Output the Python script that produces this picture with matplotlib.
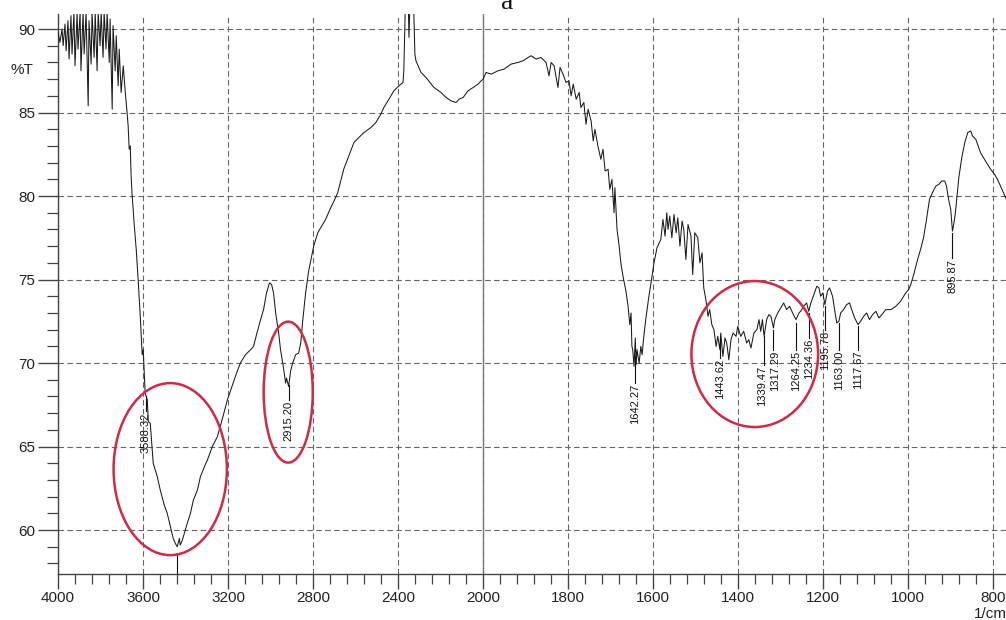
import numpy as np
import matplotlib
matplotlib.use('Agg')
from matplotlib import pyplot as plt
from matplotlib.patches import Ellipse

plt.rcParams['font.family'] = ['Liberation Sans', 'DejaVu Sans']

# spectrum: wavenumber (1/cm) and transmittance (%T)
wn_high = [4000, 3991, 3981, 3976, 3967, 3962, 3953, 3948, 3939, 3934, 3925, 3920,
           3910, 3906, 3896, 3892, 3882, 3877, 3868, 3858, 3854, 3844, 3840, 3830,
           3825, 3816, 3811, 3802, 3797, 3788, 3783, 3774, 3769, 3759, 3755, 3745,
           3741, 3731, 3726, 3717, 3712, 3703, 3693, 3684, 3675, 3670, 3665, 3660,
           3656, 3651, 3642, 3632, 3623, 3613, 3604, 3599, 3590, 3580, 3575, 3566,
           3552, 3533, 3519, 3500, 3486, 3467, 3458, 3448, 3439, 3429, 3425, 3415,
           3406, 3392, 3377, 3363, 3344, 3330, 3311, 3297, 3274, 3250, 3226, 3203,
           3179, 3160, 3142, 3118, 3094, 3080, 3066, 3047, 3033, 3019, 3005, 2995,
           2986, 2976, 2962, 2953, 2939, 2929, 2925, 2915, 2906, 2896, 2882, 2868,
           2858, 2849, 2835, 2821, 2797, 2778, 2764, 2741, 2717, 2698, 2684, 2670,
           2656, 2632, 2608, 2585, 2561, 2528, 2505, 2481, 2467, 2443, 2420, 2396,
           2377, 2373, 2363, 2354, 2349, 2340, 2330, 2321, 2316, 2292, 2269, 2231,
           2198, 2174, 2151, 2127, 2113, 2094, 2071, 2047, 2024, 2009, 2000]
t_high = [89.8, 89.2, 90.0, 89.0, 90.3, 88.7, 90.5, 88.2, 90.8, 88.5, 91.0, 87.8,
          91.0, 88.8, 91.0, 87.5, 91.0, 88.5, 91.0, 85.4, 90.5, 87.9, 91.0, 88.3,
          91.0, 87.5, 91.0, 89.0, 91.0, 88.3, 91.0, 88.8, 91.0, 88.0, 90.6, 85.2,
          90.2, 87.5, 89.6, 86.6, 88.8, 86.2, 87.8, 86.3, 85.0, 84.2, 82.8, 83.0,
          81.2, 80.0, 78.4, 76.8, 75.0, 72.8, 70.5, 70.8, 68.2, 67.8, 66.5, 66.4,
          64.0, 63.2, 62.4, 61.5, 61.0, 60.0, 59.5, 59.2, 59.0, 59.5, 59.1, 59.4,
          59.8, 60.4, 61.0, 61.8, 62.4, 63.2, 63.8, 64.2, 65.0, 65.6, 66.7, 67.8,
          68.7, 69.4, 70.0, 70.5, 70.8, 71.0, 71.7, 72.6, 73.2, 74.2, 74.8, 74.7,
          74.2, 73.0, 71.8, 70.8, 69.7, 68.8, 69.1, 68.6, 69.5, 70.0, 70.5, 70.6,
          71.2, 72.5, 74.2, 75.5, 77.0, 77.8, 78.1, 78.6, 79.3, 79.8, 80.2, 80.9,
          81.6, 82.4, 83.2, 83.5, 83.8, 84.1, 84.4, 84.9, 85.3, 85.8, 86.3, 86.6,
          86.8, 87.5, 93.0, 93.0, 89.5, 93.0, 93.0, 88.5, 88.1, 87.4, 87.1, 86.5,
          86.2, 85.9, 85.7, 85.6, 85.8, 85.9, 86.3, 86.5, 86.7, 86.9, 87.0]

wn_low = [1993, 1981, 1965, 1951, 1934, 1918, 1906, 1894, 1887, 1875, 1864, 1852,
          1845, 1840, 1833, 1824, 1819, 1812, 1805, 1798, 1793, 1788, 1781, 1774,
          1770, 1763, 1758, 1753, 1746, 1741, 1737, 1730, 1723, 1718, 1713, 1706,
          1702, 1697, 1692, 1690, 1685, 1680, 1676, 1671, 1664, 1659, 1655, 1652,
          1650, 1648, 1645, 1642, 1640, 1638, 1633, 1629, 1626, 1622, 1617, 1610,
          1605, 1598, 1591, 1582, 1577, 1572, 1568, 1565, 1561, 1556, 1551, 1546,
          1542, 1537, 1532, 1528, 1523, 1518, 1511, 1507, 1502, 1495, 1490, 1485,
          1481, 1476, 1471, 1467, 1462, 1457, 1452, 1448, 1443, 1441, 1436, 1431,
          1427, 1422, 1417, 1412, 1405, 1401, 1394, 1387, 1380, 1375, 1370, 1363,
          1356, 1351, 1347, 1343, 1339, 1333, 1328, 1323, 1317, 1314, 1307, 1300,
          1293, 1286, 1279, 1272, 1264, 1257, 1253, 1246, 1239, 1234, 1229, 1222,
          1215, 1210, 1206, 1201, 1196, 1190, 1185, 1178, 1172, 1168, 1163, 1159,
          1152, 1145, 1138, 1133, 1126, 1118, 1112, 1105, 1098, 1091, 1084, 1076,
          1069, 1062, 1053, 1041, 1029, 1018, 1006, 999, 994, 987, 978, 971,
          964, 957, 950, 943, 935, 928, 921, 914, 910, 905, 900, 896,
          893, 889, 881, 874, 867, 860, 853, 849, 841, 834, 830, 823,
          816, 806, 797, 790, 783, 776, 769]
t_low = [87.4, 87.3, 87.5, 87.6, 87.9, 88.0, 88.1, 88.3, 88.4, 88.2, 88.3, 88.0,
         87.2, 88.0, 87.8, 86.5, 87.7, 87.3, 86.8, 86.9, 86.0, 86.7, 85.8, 86.2,
         85.3, 85.6, 84.3, 85.2, 84.5, 83.3, 84.0, 83.0, 82.2, 82.8, 81.5, 81.6,
         80.4, 81.0, 79.0, 80.5, 78.0, 77.0, 76.0, 75.2, 74.3, 73.4, 72.3, 73.0,
         71.0, 70.8, 69.8, 71.5, 69.9, 70.8, 70.0, 71.0, 70.5, 71.6, 72.7, 74.0,
         74.8, 76.0, 76.9, 77.4, 78.6, 77.6, 79.0, 78.0, 78.8, 77.5, 78.9, 77.8,
         78.7, 77.0, 78.5, 78.0, 76.2, 78.3, 77.6, 75.3, 77.8, 77.5, 76.0, 76.6,
         74.5, 73.8, 72.8, 73.2, 72.3, 72.0, 71.0, 71.6, 70.8, 71.8, 70.4, 71.5,
         71.2, 70.2, 71.4, 71.8, 71.6, 72.2, 71.6, 71.9, 71.2, 71.4, 70.9, 71.8,
         72.0, 72.6, 71.9, 72.6, 71.6, 72.6, 72.9, 72.8, 72.1, 72.6, 73.0, 73.3,
         73.6, 73.2, 73.4, 73.0, 72.6, 73.0, 73.1, 73.4, 73.6, 73.1, 73.6, 74.1,
         74.6, 74.5, 74.0, 74.2, 73.5, 74.3, 74.5, 74.0, 73.0, 72.4, 72.5, 73.0,
         73.2, 73.5, 73.6, 73.2, 72.7, 72.3, 72.5, 72.8, 73.0, 72.6, 72.9, 73.1,
         72.7, 72.9, 73.2, 73.2, 73.4, 73.7, 74.2, 74.4, 74.7, 75.3, 76.2, 76.8,
         77.5, 78.6, 79.8, 80.2, 80.6, 80.7, 80.9, 80.9, 80.6, 79.8, 79.2, 77.9,
         78.3, 79.0, 81.1, 82.3, 83.2, 83.8, 83.9, 83.6, 83.4, 82.9, 82.6, 82.3,
         82.0, 81.6, 81.3, 81.0, 80.6, 80.2, 79.8]

# peak labels: marker line start and text start (%T); text nudged sideways (1/cm)
peak_labels = ['3588.32', '2915.20', '1642.27', '1443.62', '1339.47', '1317.29',
               '1264.25', '1234.36', '1195.78', '1163.00', '1117.67', '895.87']
peak_line_top = [68.0, 68.7, 70.4, 71.5, 71.6, 72.0, 72.4, 73.0, 73.4, 72.4, 72.2, 77.8]
peak_text_top = [67.1, 67.8, 68.8, 70.3, 69.9, 70.8, 70.8, 71.5, 72.0, 70.8, 70.8, 76.3]
peak_nudge = [0, 0, 0, 0, 4, -5, 0, 0, 0, 0, 0, 0]
# the label of the deepest band is cut off by the axis
deep_band = 3439

# red circles: centre wavenumber, centre %T, width (1/cm), height (%T)
circles = [(3472, 63.65, 533, 10.3), (2917, 68.26, 231, 8.44), (1361, 70.54, 298, 8.74)]

x_major = [4000, 3600, 3200, 2800, 2400, 2000, 1800, 1600, 1400, 1200, 1000, 800]
y_major = [60, 65, 70, 75, 80, 85, 90]


def forward(w):
    # the chart doubles its scale below 2000 1/cm
    w = np.asarray(w, dtype=float)
    return np.where(w > 2000, 2000 + (w - 2000) / 2, w)


def inverse(u):
    u = np.asarray(u, dtype=float)
    return np.where(u > 2000, 2000 + (u - 2000) * 2, u)


fig = plt.figure(figsize=(10.06, 6.2), dpi=100)
ax = fig.add_axes([58 / 1006, 46 / 620, 948 / 1006, 560 / 620])
ax.set_xscale('function', functions=(forward, inverse))

wn = np.array(wn_high + wn_low)
tr = np.array(t_high + t_low)
ax.plot(wn, tr, color='#1a1a1a', lw=0.75, zorder=3)

ax.set_xlim(4000, 770)
ax.set_ylim(57.37, 90.9)

ax.set_xticks(x_major)
ax.set_xticks(list(np.arange(4000, 2000, -80)) + list(np.arange(2000, 760, -40)), minor=True)
ax.set_yticks(y_major)
ax.set_yticks(np.arange(58, 91, 1), minor=True)

ax.grid(True, which='major', ls=(0, (5, 3)), color='#666666', lw=0.8)
ax.axvline(2000, color='#777777', lw=1.0, zorder=2)

for side in ['top', 'right']:
    ax.spines[side].set_visible(False)
for side in ['left', 'bottom']:
    ax.spines[side].set_color('#444444')
    ax.spines[side].set_linewidth(1.0)

ax.tick_params(axis='x', which='major', length=11, width=1.0, color='#444444',
               labelsize=11, pad=1, labelcolor='#222222')
ax.tick_params(axis='x', which='minor', length=7, width=0.9, color='#444444')
ax.tick_params(axis='y', which='major', length=14.5, width=1.0, color='#444444',
               labelsize=11, pad=2, labelcolor='#222222')
ax.tick_params(axis='y', which='minor', length=8, width=0.9, color='#444444')

for lab, top, txt, dx in zip(peak_labels, peak_line_top, peak_text_top, peak_nudge):
    x = float(lab)
    ax.plot([x, x], [top, txt], color='#111111', lw=0.8, zorder=4)
    ax.text(x + dx, txt - 0.05, lab, rotation=90, ha='center', va='top',
            fontsize=8, color='#111111', zorder=5)
ax.plot([deep_band, deep_band], [58.6, 57.37], color='#111111', lw=0.8,
        zorder=4, clip_on=False)

for cx, cy, w, h in circles:
    ax.add_patch(Ellipse((cx, cy), w, h, fill=False, ec='#cf2a46', lw=1.8, zorder=6))

fig.text(22 / 1006, 1 - 70 / 620, '%T', ha='center', va='center', fontsize=11,
         color='#222222')
fig.text(974 / 1006, 1 - 607 / 620, '1/cm', ha='left', va='top', fontsize=11,
         color='#222222')
fig.text(507 / 1006, 1 - 9 / 620, 'a', ha='center', va='baseline', fontsize=20,
         family='Liberation Serif', color='#111111')

plt.savefig('out.png', dpi=100)
